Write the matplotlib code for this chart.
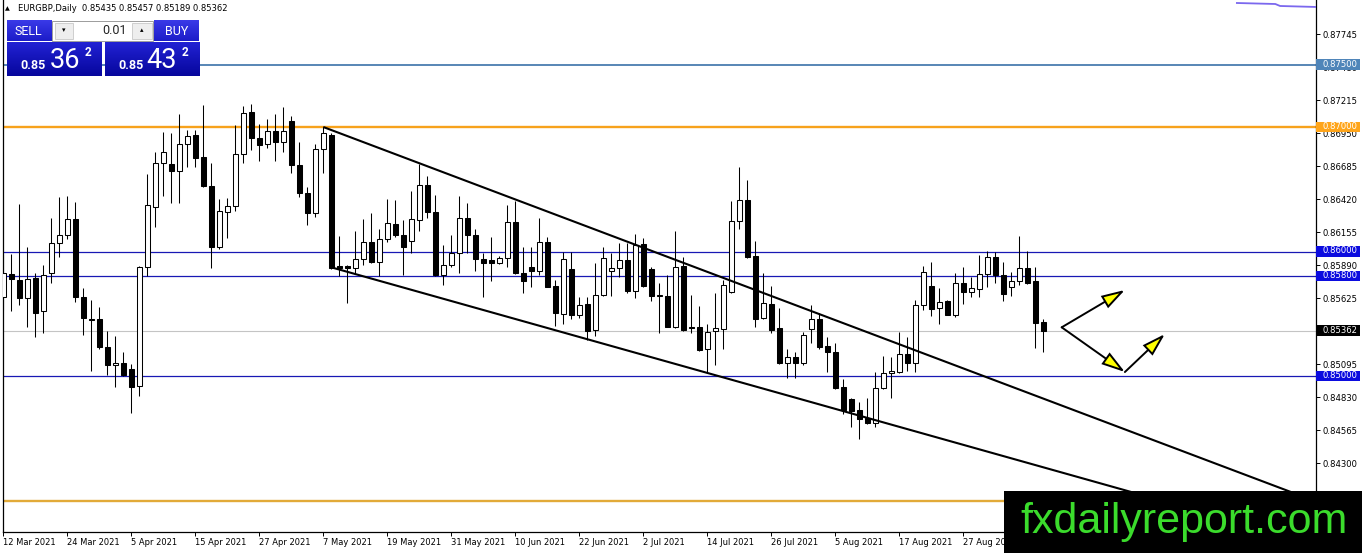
import numpy as np
import matplotlib
matplotlib.use('Agg')
import matplotlib.pyplot as plt
from matplotlib.patches import Rectangle, FancyArrowPatch
from matplotlib.colors import to_rgb
import matplotlib.transforms as mtransforms

plt.rcParams['font.family'] = ['DejaVu Sans']

# ---------------- data (bar 0 = 12 Mar 2021, daily bars) ----------------
header_text = "EURGBP,Daily  0.85435 0.85457 0.85189 0.85362"

opens = [0.85632, 0.85819, 0.85771, 0.85624, 0.85784, 0.85519, 0.85825, 0.86065, 0.86130, 0.86261,
         0.85632, 0.85458, 0.85455, 0.85230, 0.85086, 0.85102, 0.85054, 0.84917, 0.85873, 0.86360,
         0.86708, 0.86703, 0.86649, 0.86861, 0.86935, 0.86756, 0.86526, 0.86033, 0.86314, 0.86368,
         0.86780, 0.87117, 0.86909, 0.86861, 0.86965, 0.86877, 0.87045, 0.86692, 0.86472, 0.86306,
         0.86826, 0.86933, 0.85883, 0.85883, 0.85865, 0.85937, 0.86076, 0.85918, 0.86098, 0.86221,
         0.86130, 0.86081, 0.86253, 0.86534, 0.86320, 0.85808, 0.85889, 0.85985, 0.86266, 0.86135,
         0.85937, 0.85932, 0.85910, 0.85945, 0.86237, 0.85825, 0.85873, 0.85846, 0.86073, 0.85723,
         0.85498, 0.85859, 0.85493, 0.85578, 0.85369, 0.85648, 0.85846, 0.85865, 0.85932, 0.85685,
         0.86060, 0.85862, 0.85645, 0.85642, 0.85396, 0.85883, 0.85393, 0.85391, 0.85214, 0.85361,
         0.85375, 0.85677, 0.86245, 0.86413, 0.85964, 0.85463, 0.85578, 0.85383, 0.85102, 0.85150,
         0.85107, 0.85375, 0.85455, 0.85241, 0.85195, 0.84909, 0.84818, 0.84727, 0.84660, 0.84620,
         0.84901, 0.85021, 0.85035, 0.85177, 0.85102, 0.85570, 0.85723, 0.85543, 0.85605, 0.85493,
         0.85750, 0.85672, 0.85696, 0.85819, 0.85953, 0.85811, 0.85712, 0.85766, 0.85865, 0.85763,
         0.85435]
highs = [0.85972, 0.85980, 0.86381, 0.86033, 0.85830, 0.85891, 0.86269, 0.86435, 0.86446, 0.86397,
         0.85704, 0.85610, 0.85551, 0.85359, 0.85321, 0.85193, 0.85096, 0.85883, 0.86622, 0.86799,
         0.86960, 0.86949, 0.87104, 0.86976, 0.86976, 0.87179, 0.86713, 0.86424, 0.86427, 0.87016,
         0.87168, 0.87184, 0.87024, 0.87061, 0.87104, 0.87163, 0.87088, 0.86882, 0.86521, 0.86860,
         0.86997, 0.86950, 0.86124, 0.85890, 0.86167, 0.86258, 0.86312, 0.86178, 0.86419, 0.86413,
         0.86253, 0.86483, 0.86703, 0.86606, 0.86451, 0.86052, 0.86132, 0.86446, 0.86392, 0.86178,
         0.85985, 0.86114, 0.85964, 0.86373, 0.86408, 0.86039, 0.86039, 0.86266, 0.86114, 0.85771,
         0.85998, 0.85998, 0.85637, 0.85637, 0.85905, 0.86033, 0.85985, 0.86071, 0.86071, 0.86140,
         0.86106, 0.85878, 0.85750, 0.85808, 0.86167, 0.85953, 0.85650, 0.85562, 0.85418, 0.85664,
         0.85771, 0.86408, 0.86681, 0.86574, 0.86087, 0.85825, 0.85723, 0.85543, 0.85214, 0.85193,
         0.85356, 0.85570, 0.85503, 0.85311, 0.85262, 0.84973, 0.84821, 0.84794, 0.84821, 0.85035,
         0.85161, 0.85155, 0.85356, 0.85316, 0.85610, 0.85883, 0.85918, 0.85704, 0.85610, 0.85825,
         0.85873, 0.85798, 0.85972, 0.86007, 0.85998, 0.85918, 0.85838, 0.86124, 0.86007, 0.85873,
         0.85457]
lows = [0.85530, 0.85525, 0.85570, 0.85391, 0.85316, 0.85343, 0.85750, 0.85958, 0.86098, 0.85597,
        0.85332, 0.85043, 0.85214, 0.85008, 0.84914, 0.85000, 0.84706, 0.84839, 0.85803, 0.86199,
        0.86446, 0.86387, 0.86392, 0.86676, 0.86681, 0.86515, 0.85870, 0.86017, 0.86111, 0.86328,
        0.86708, 0.86815, 0.86724, 0.86828, 0.86729, 0.86802, 0.86633, 0.86440, 0.86215, 0.86274,
        0.86633, 0.85860, 0.85803, 0.85589, 0.85819, 0.85891, 0.85905, 0.85803, 0.86079, 0.86114,
        0.85811, 0.85990, 0.86167, 0.86272, 0.85803, 0.85731, 0.85878, 0.85825, 0.85985, 0.85846,
        0.85637, 0.85766, 0.85899, 0.85873, 0.85819, 0.85669, 0.85712, 0.85811, 0.85712, 0.85402,
        0.85418, 0.85455, 0.85463, 0.85289, 0.85321, 0.85642, 0.85642, 0.85798, 0.85669, 0.85624,
        0.85712, 0.85605, 0.85343, 0.85391, 0.85383, 0.85365, 0.85343, 0.85203, 0.85027, 0.85088,
        0.85214, 0.85669, 0.86183, 0.85945, 0.85391, 0.85455, 0.85348, 0.85096, 0.84981, 0.84987,
        0.85088, 0.85268, 0.85214, 0.85035, 0.84893, 0.84695, 0.84593, 0.84491, 0.84615, 0.84593,
        0.84893, 0.84821, 0.85027, 0.85043, 0.85035, 0.85530, 0.85482, 0.85418, 0.85487, 0.85476,
        0.85578, 0.85632, 0.85637, 0.85717, 0.85750, 0.85605, 0.85642, 0.85731, 0.85739, 0.85222,
        0.85189]
closes = [0.85830, 0.85776, 0.85624, 0.85779, 0.85509, 0.85808, 0.86065, 0.86130, 0.86261, 0.85632,
          0.85468, 0.85452, 0.85236, 0.85091, 0.85102, 0.85011, 0.84914, 0.85873, 0.86371, 0.86708,
          0.86799, 0.86649, 0.86861, 0.86925, 0.86753, 0.86526, 0.86033, 0.86322, 0.86363, 0.86780,
          0.87109, 0.86909, 0.86858, 0.86965, 0.86877, 0.86965, 0.86692, 0.86472, 0.86306, 0.86826,
          0.86954, 0.85870, 0.85867, 0.85865, 0.85937, 0.86076, 0.85918, 0.86098, 0.86226, 0.86130,
          0.86039, 0.86258, 0.86534, 0.86320, 0.85808, 0.85889, 0.85985, 0.86266, 0.86135, 0.85937,
          0.85905, 0.85905, 0.85945, 0.86234, 0.85825, 0.85766, 0.85846, 0.86073, 0.85717, 0.85503,
          0.85937, 0.85490, 0.85570, 0.85364, 0.85648, 0.85945, 0.85865, 0.85932, 0.85685, 0.86052,
          0.85723, 0.85645, 0.85648, 0.85396, 0.85873, 0.85369, 0.85389, 0.85209, 0.85356, 0.85383,
          0.85731, 0.86245, 0.86413, 0.85953, 0.85455, 0.85584, 0.85369, 0.85102, 0.85150, 0.85107,
          0.85329, 0.85455, 0.85236, 0.85190, 0.84901, 0.84727, 0.84722, 0.84652, 0.84625, 0.84901,
          0.85027, 0.85040, 0.85177, 0.85102, 0.85570, 0.85838, 0.85535, 0.85597, 0.85493, 0.85750,
          0.85677, 0.85704, 0.85816, 0.85953, 0.85811, 0.85659, 0.85766, 0.85865, 0.85750, 0.85428,
          0.85362]

x_tick_bars = [0, 8, 16, 24, 32, 40, 48, 56, 64, 72, 80, 88, 96, 104, 112, 120]
x_tick_labels = ['12 Mar 2021', '24 Mar 2021', '5 Apr 2021', '15 Apr 2021', '27 Apr 2021',
                 '7 May 2021', '19 May 2021', '31 May 2021', '10 Jun 2021', '22 Jun 2021',
                 '2 Jul 2021', '14 Jul 2021', '26 Jul 2021', '5 Aug 2021', '17 Aug 2021',
                 '27 Aug 2021']
y_ticks = [0.84300, 0.84565, 0.84830, 0.85095, 0.85360, 0.85625, 0.85890, 0.86155,
           0.86420, 0.86685, 0.86950, 0.87215, 0.87480, 0.87745]

# horizontal levels
level_prices = [0.87500, 0.87000, 0.86000, 0.85800, 0.85362, 0.85000, 0.84000]
level_colors = ['#4a7db0', '#f7a21c', '#1818b4', '#1818b4', '#c4c4c4', '#1818b4', '#e2aa38']
level_widths = [1.3, 1.7, 0.9, 0.9, 0.8, 0.9, 1.7]
label_prices = [0.87500, 0.87000, 0.86000, 0.85800, 0.85362, 0.85000]
label_texts = ['0.87500', '0.87000', '0.86000', '0.85800', '0.85362', '0.85000']
label_bgs = ['#4f85b9', '#ffa51a', '#0c0cdf', '#0c0cdf', '#000000', '#0c0cdf']

# trend lines: two anchor points each (bar index, price)
upper_trend_x = [40, 160.8]
upper_trend_y = [0.87000, 0.84072]
lower_trend_x = [41, 120.84]
lower_trend_y = [0.85873, 0.84432]

# scenario arrows (bar index, price)
arrow_start = (132.3, 0.85391)
arrow_up_tip = (140.2, 0.85691)
arrow_vertex = (140.2, 0.85032)
arrow_up2_tip = (145.2, 0.85337)

# indicator fragment at top right
ind_x = [154.2, 159.0, 159.6, 164.2]
ind_y = [0.87996, 0.87988, 0.87972, 0.87964]

# ---------------- figure ----------------
W, H = 1362, 553
fig = plt.figure(figsize=(W / 100, H / 100), dpi=100)
fig.patch.set_facecolor('white')

left_px, right_px, bottom_px = 2.7, 1316.0, 531.7
ax = fig.add_axes([left_px / W, (H - bottom_px) / H, (right_px - left_px) / W, bottom_px / H])
ax.set_facecolor('white')

ymax = 0.880201
ymin = 0.837494
xmin = (left_px - 3.3) / 8.0
xmax = (right_px - 3.3) / 8.0
ax.set_xlim(xmin, xmax)
ax.set_ylim(ymin, ymax)

# levels
for p, col, lw in zip(level_prices, level_colors, level_widths):
    ax.axhline(p, color=col, lw=lw, zorder=2)

# candles
o = np.array(opens); h = np.array(highs); l = np.array(lows); c = np.array(closes)
x = np.arange(len(o))
up = c >= o
ax.vlines(x, l, h, color='black', lw=0.75, zorder=3)
bot = np.minimum(o, c)
hgt = np.abs(c - o)
ax.bar(x[up], hgt[up], bottom=bot[up], width=0.58, color='white', edgecolor='black', lw=0.75, zorder=4)
ax.bar(x[~up], hgt[~up], bottom=bot[~up], width=0.58, color='black', edgecolor='black', lw=0.75, zorder=4)

# trend lines (rays to the right)
for tx, ty in ((upper_trend_x, upper_trend_y), (lower_trend_x, lower_trend_y)):
    slope = (ty[1] - ty[0]) / (tx[1] - tx[0])
    xe = xmax + 5
    ax.plot([tx[0], xe], [ty[0], ty[0] + slope * (xe - tx[0])], color='black', lw=1.5,
            zorder=5, solid_capstyle='butt')

# indicator fragment
ax.plot(ind_x, ind_y, color='#7b68ee', lw=1.3, zorder=5)

# arrows
def draw_arrow(p0, p1):
    a = FancyArrowPatch(p0, p1, arrowstyle='-|>,head_length=14,head_width=4.2', mutation_scale=1,
                        lw=1.4, ec='black', fc='#ffff00', shrinkA=0, shrinkB=0, zorder=8,
                        joinstyle='miter')
    ax.add_patch(a)

draw_arrow(arrow_start, arrow_up_tip)
draw_arrow(arrow_start, arrow_vertex)
draw_arrow(arrow_vertex, arrow_up2_tip)

# axes styling
for s in ('left', 'bottom', 'right'):
    ax.spines[s].set_color('black')
    ax.spines[s].set_linewidth(0.9)
ax.spines['top'].set_visible(False)

ax.yaxis.tick_right()
ax.set_yticks(y_ticks)
ax.set_yticklabels(['%.5f' % v for v in y_ticks])
ax.tick_params(axis='y', which='both', right=True, left=False, labelright=True, labelleft=False,
               length=2.6, width=0.7, pad=2.4, labelsize=6.1, colors='black')
ax.set_xticks(x_tick_bars)
ax.set_xticklabels(x_tick_labels)
for lab in ax.get_xticklabels():
    lab.set_horizontalalignment('left')
ax.tick_params(axis='x', length=2.6, width=0.7, pad=2.0, labelsize=6.0, colors='black')

# level labels on the price scale
ppu = 12450.0
axw = right_px - left_px
blend = mtransforms.blended_transform_factory(ax.transAxes, ax.transData)
for p, txt, bg in zip(label_prices, label_texts, label_bgs):
    ax.add_patch(Rectangle((1.0, p - 5.0 / ppu), 44.0 / axw, 10.5 / ppu, transform=blend,
                           facecolor=bg, edgecolor='none', clip_on=False, zorder=6))
    ax.text(1.0 + 6.5 / axw, p + 0.6 / ppu, txt, transform=blend, ha='left', va='center',
            fontsize=6.1, color='white', clip_on=False, zorder=7)

# ---------------- overlay (panel, watermark) in pixel coordinates ----------------
ov = fig.add_axes([0, 0, 1, 1], zorder=10)
ov.set_facecolor('none')
ov.axis('off')


def grad_rect(x0, y0, x1, y1, c_top, c_bot, z=2):
    t = np.linspace(0, 1, 64)[:, None]
    ct = np.array(to_rgb(c_top)); cb = np.array(to_rgb(c_bot))
    img = (ct * (1 - t) + cb * t)[:, None, :]
    ov.imshow(img, extent=(x0, x1, y1, y0), aspect='auto', zorder=z, interpolation='bilinear')


# header
ov.text(5, 8.5, '\u25b2', fontsize=4.5, ha='left', va='center', color='black')
ov.text(18, 8.5, header_text, fontsize=6.0, ha='left', va='center', color='black')

pf = 'Roboto'
# SELL / BUY buttons
grad_rect(6.5, 20.5, 51.0, 41.5, '#3a3ae8', '#1c1cc8')
grad_rect(154.0, 20.5, 198.5, 41.5, '#3a3ae8', '#1c1cc8')
ov.text(28.5, 31.5, 'SELL', fontsize=9, family=pf, color='white', ha='center', va='center')
ov.text(176.5, 31.5, 'BUY', fontsize=9, family=pf, color='white', ha='center', va='center')
# lot control
ov.add_patch(Rectangle((52, 20.5), 101, 20, facecolor='white', edgecolor='#9c9c9c', lw=0.7, zorder=2))
ov.add_patch(Rectangle((55, 22.5), 17.5, 16, facecolor='#eeeeee', edgecolor='#c8c8c8', lw=0.6, zorder=3))
ov.add_patch(Rectangle((132, 22.5), 19.5, 16, facecolor='#eeeeee', edgecolor='#c8c8c8', lw=0.6, zorder=3))
ov.text(63.8, 30.5, '\u25be', fontsize=5, color='black', ha='center', va='center', zorder=4)
ov.text(141.8, 30.5, '\u25b4', fontsize=5, color='black', ha='center', va='center', zorder=4)
ov.text(127, 30.5, '0.01', fontsize=9, family=pf, color='#222222', ha='right', va='center', zorder=4)
# price boxes
grad_rect(6.5, 42.5, 101.5, 76.0, '#2222d4', '#06069c')
grad_rect(104.5, 42.5, 199.0, 76.0, '#2222d4', '#06069c')
ov.text(20.5, 69.0, '0.85', fontsize=9, family=pf, weight='bold', color='white', ha='left', va='baseline', zorder=4)
ov.text(49.5, 68.5, '36', fontsize=19.5, family=pf, color='white', ha='left', va='baseline', zorder=4)
ov.text(84.5, 46.5, '2', fontsize=8.5, family=pf, weight='bold', color='white', ha='left', va='top', zorder=4)
ov.text(118.0, 69.0, '0.85', fontsize=9, family=pf, weight='bold', color='white', ha='left', va='baseline', zorder=4)
ov.text(146.5, 68.5, '43', fontsize=19.5, family=pf, color='white', ha='left', va='baseline', zorder=4)
ov.text(181.5, 46.5, '2', fontsize=8.5, family=pf, weight='bold', color='white', ha='left', va='top', zorder=4)

# watermark
ov.add_patch(Rectangle((1004, 490.7), W - 1004 + 2, H - 490.7 + 2, facecolor='black', edgecolor='none', zorder=5))
ov.text(1020, 533, 'fxdailyreport.com', fontsize=31, family='Liberation Sans', color='#3bdc2c',
        ha='left', va='baseline', zorder=6)

ov.set_xlim(0, W)
ov.set_ylim(H, 0)

fig.savefig('out.png', dpi=100, facecolor='white')
